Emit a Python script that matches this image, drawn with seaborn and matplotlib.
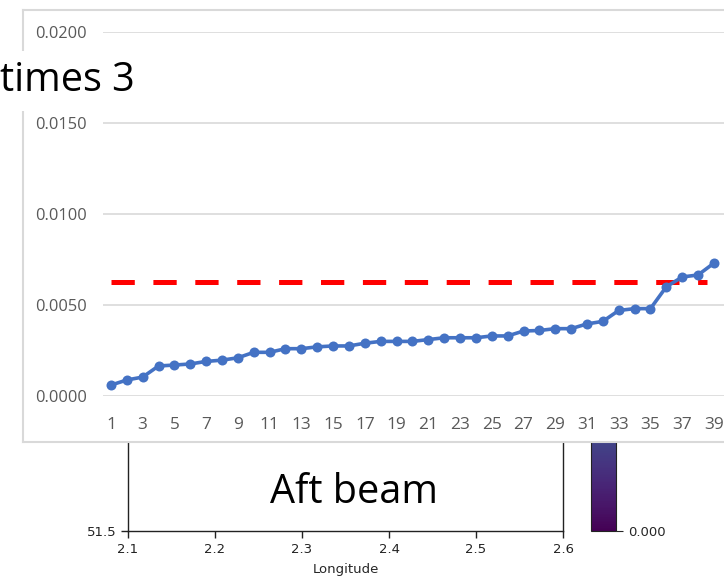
import numpy as np
import pandas as pd
import matplotlib
import matplotlib.pyplot as plt
import seaborn as sns

sns.set_style("white")
plt.rcParams['font.family'] = ['DejaVu Sans']

# Excel-style overlay series
index = list(range(1, 40))
values = [0.0006, 0.00088, 0.00104, 0.00165, 0.0017, 0.00176, 0.0019, 0.00197,
          0.0021, 0.0024, 0.0024, 0.0026, 0.0026, 0.0027, 0.00275, 0.00275,
          0.0029, 0.003, 0.003, 0.003, 0.0031, 0.0032, 0.0032, 0.0032,
          0.0033, 0.0033, 0.00357, 0.0036, 0.0037, 0.0037, 0.00396, 0.0041,
          0.0047, 0.0048, 0.0048, 0.006, 0.00654, 0.00665, 0.0073]
threshold = 0.00626
threshold_span = (1, 38.56)
y_ticks = [0.0, 0.005, 0.010, 0.015, 0.020]
x_ticks = list(range(1, 40, 2))

# background map panel
lon_ticks = [2.1, 2.2, 2.3, 2.4, 2.5, 2.6]
lat_ticks = [51.5]
cbar_ticks = [0.0]

W, H = 724, 576
fig = plt.figure(figsize=(W / 100, H / 100), dpi=100)


def rect(x0, y0, x1, y1):
    # pixel box (top-left origin) -> figure fraction
    return [x0 / W, 1 - y1 / H, (x1 - x0) / W, (y1 - y0) / H]


# map axes underneath
ax_map = fig.add_axes(rect(128, 90, 563, 531))
ax_map.set_xlim(2.1, 2.6)
ax_map.set_ylim(51.5, 52.0)
ax_map.set_xticks(lon_ticks)
ax_map.set_yticks(lat_ticks)
ax_map.tick_params(direction='out', length=5, width=1, labelsize=9.5,
                   colors='#222222', bottom=True, left=True)
ax_map.set_xlabel("Longitude", fontsize=9.5, labelpad=5)
for s in ax_map.spines.values():
    s.set_color('#222222')
    s.set_linewidth(1)
ax_map.text(0.52, 0.086, "Aft beam", transform=ax_map.transAxes, ha='center',
            va='center', fontsize=28.5, family='Open Sans', color='black')

# colourbar
ax_cb = fig.add_axes(rect(591, 86, 616, 531))
sm = matplotlib.cm.ScalarMappable(cmap='viridis',
                                  norm=matplotlib.colors.Normalize(0, 1))
cb = fig.colorbar(sm, cax=ax_cb, ticks=cbar_ticks, format='%.3f')
cb.ax.tick_params(labelsize=9.5, length=5)
cb.outline.set_edgecolor('#222222')

# Excel chart box on top
ax_box = fig.add_axes(rect(23, 10, 745, 442))
ax_box.set_zorder(5)
ax_box.set_facecolor('white')
ax_box.set_xticks([])
ax_box.set_yticks([])
for s in ax_box.spines.values():
    s.set_color('#d9d9d9')
    s.set_linewidth(1.5)

ax = fig.add_axes(rect(103, 32, 740, 396))
ax.set_zorder(6)
ax.patch.set_alpha(0)
df = pd.DataFrame({"idx": index, "val": values})
ax.hlines(threshold, *threshold_span, colors='#ff0000', linewidth=3.6,
          linestyles=(0, (4.66, 3.72)), zorder=1)
sns.lineplot(data=df, x="idx", y="val", ax=ax, color='#4472c4', linewidth=2.6,
             marker='o', markersize=7.2, markeredgewidth=0, zorder=3)
ax.set_ylim(0, 0.02)
ax.set_xlim(0.5, 0.5 + (740 - 103) / 15.868)
ax.set_yticks(y_ticks)
ax.set_yticklabels([f"{v:.4f}" for v in y_ticks])
ax.set_xticks(x_ticks)
ax.grid(axis='y', color='#d9d9d9', linewidth=1.2)
ax.set_axisbelow(True)
for s in ax.spines.values():
    s.set_visible(False)
ax.tick_params(axis='y', length=0, pad=11.5, labelsize=11.8, labelcolor='#595959')
ax.tick_params(axis='x', length=0, pad=15, labelsize=12.4, labelcolor='#595959')
for lab in ax.get_xticklabels() + ax.get_yticklabels():
    lab.set_family('Open Sans')
ax.set_xlabel("")
ax.set_ylabel("")

fig.text(0 / W, 1 - 81 / H, "times 3", ha='left', va='center', fontsize=28.5,
         family='Open Sans', color='black', zorder=10,
         bbox=dict(facecolor='white', edgecolor='none', pad=7))

fig.savefig("out.png", dpi=100, facecolor='white')
